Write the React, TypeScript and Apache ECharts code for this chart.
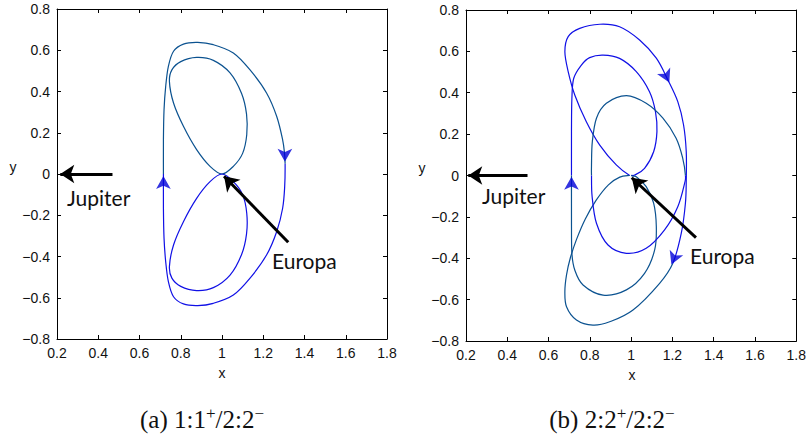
import React, { useEffect, useRef } from "react";
import * as echarts from "echarts";

// ---------- data (x, y in Europa-Jupiter rotating frame) ----------
// (a) 1:1+/2:2-
const A_OUTER_UPPER = [
  [0.716, 0.0], [0.716, 0.166], [0.719, 0.312], [0.727, 0.425], [0.740, 0.522],
  [0.765, 0.595], [0.813, 0.630], [0.882, 0.638], [0.958, 0.627], [1.055, 0.587],
  [1.135, 0.506], [1.216, 0.393], [1.265, 0.280], [1.294, 0.166], [1.303, 0.100],
  [1.306, 0.050],
];
const A_OUTER_LOWER = [
  [1.306, 0.050], [1.304, -0.060], [1.294, -0.166], [1.265, -0.280], [1.216, -0.393],
  [1.135, -0.506], [1.055, -0.587], [0.958, -0.627], [0.882, -0.638], [0.813, -0.630],
  [0.765, -0.595], [0.740, -0.522], [0.727, -0.425], [0.719, -0.312], [0.716, -0.166],
  [0.716, 0.0],
];
const A_INNER_UPPER = [
  [1.0, 0.0], [1.055, 0.037], [1.100, 0.100], [1.120, 0.190], [1.119, 0.290],
  [1.095, 0.390], [1.039, 0.490], [0.958, 0.551], [0.877, 0.565], [0.800, 0.545],
  [0.757, 0.505], [0.745, 0.449], [0.765, 0.344], [0.813, 0.231], [0.877, 0.118],
  [0.942, 0.037], [1.0, 0.0],
];
const A_INNER_LOWER = [
  [1.0, 0.0], [1.055, -0.037], [1.100, -0.100], [1.120, -0.190], [1.119, -0.290],
  [1.095, -0.390], [1.039, -0.490], [0.958, -0.551], [0.877, -0.565], [0.800, -0.545],
  [0.757, -0.505], [0.745, -0.449], [0.765, -0.344], [0.813, -0.231], [0.877, -0.118],
  [0.942, -0.037], [1.0, 0.0],
];
// arrowheads: [x, y, rotation]
const A_ARROWS = [
  [0.716, -0.01, 0],
  [1.305, 0.06, 180],
];

// (b) 2:2+/2:2-
const B_OUTER_UPPER = [
  [0.993, 0.0], [0.928, 0.051], [0.848, 0.147], [0.783, 0.260], [0.727, 0.389],
  [0.695, 0.502], [0.679, 0.598], [0.695, 0.671], [0.751, 0.711], [0.848, 0.731],
  [0.944, 0.719], [1.041, 0.655], [1.122, 0.567], [1.178, 0.462], [1.226, 0.357],
  [1.254, 0.244], [1.267, 0.115], [1.267, -0.022], [1.263, -0.134], [1.243, -0.279],
  [1.202, -0.424],
];
const B_OUTER_LOWER = [
  [1.202, -0.424], [1.138, -0.521], [1.009, -0.650], [0.896, -0.707], [0.815, -0.723],
  [0.735, -0.698], [0.687, -0.634], [0.679, -0.560], [0.687, -0.480], [0.705, -0.400],
  [0.735, -0.310], [0.778, -0.210], [0.830, -0.120], [0.890, -0.045], [0.945, -0.008],
  [0.993, 0.0],
];
const B_SECOND_UPPER = [
  [0.711, 0.0], [0.711, 0.212], [0.713, 0.373], [0.722, 0.470], [0.759, 0.534],
  [0.799, 0.570], [0.864, 0.582], [0.944, 0.566], [1.025, 0.502], [1.089, 0.405],
  [1.118, 0.308], [1.125, 0.212], [1.109, 0.115], [1.065, 0.035], [1.017, 0.002],
  [1.0, 0.0],
];
const B_SECOND_LOWER = [
  [0.711, 0.0], [0.711, -0.215], [0.713, -0.376], [0.727, -0.457], [0.767, -0.529],
  [0.864, -0.578], [0.977, -0.553], [1.065, -0.473], [1.114, -0.360], [1.122, -0.247],
  [1.109, -0.134], [1.073, -0.054], [1.025, -0.006], [1.0, 0.0],
];
const B_MIDDLE_UPPER = [
  [0.808, 0.0], [0.808, 0.051], [0.812, 0.164], [0.832, 0.277], [0.880, 0.349],
  [0.977, 0.386], [1.073, 0.349], [1.154, 0.277], [1.218, 0.180], [1.250, 0.083],
  [1.263, 0.0],
];
const B_MIDDLE_LOWER = [
  [1.263, 0.0], [1.259, -0.038], [1.226, -0.151], [1.162, -0.263], [1.073, -0.352],
  [0.977, -0.376], [0.888, -0.336], [0.832, -0.231], [0.811, -0.102], [0.808, 0.0],
];
const B_ARROWS = [
  [0.711, -0.006, 0],
  [1.185, 0.45, 206],
  [1.195, -0.43, 157],
];

// annotation arrows [from, to]
const A_JUPITER_ARROW = [[0.469, 0.0], [0.216, 0.0]];
const A_EUROPA_ARROW = [[1.321, -0.331], [1.010, -0.011]];
const B_JUPITER_ARROW = [[0.498, 0.0], [0.211, 0.0]];
const B_EUROPA_ARROW = [[1.314, -0.300], [1.003, -0.011]];

const X_MIN = 0.2, X_MAX = 1.8, Y_MIN = -0.8, Y_MAX = 0.8, STEP = 0.2;
const CAPTIONS = ["(a) 1:1{s|+}/2:2{s|\u2212}", "(b) 2:2{s|+}/2:2{s|\u2212}"];

const BLUE = "#1010e6";
const TEAL = "#0b5290";
const LABEL_FONT = "'Liberation Sans', Arial, Helvetica, sans-serif";
const ANNOT_FONT = "Lato, 'Open Sans', sans-serif";
const SERIF = "'Liberation Serif', 'DejaVu Serif', serif";

function fmt(v: number) {
  const r = Math.round(v * 10) / 10;
  if (r === 0) return "0";
  const s = Number.isInteger(r) ? String(Math.abs(r)) : Math.abs(r).toFixed(1);
  return (r < 0 ? "\u2212" : "") + s;
}

type Piece = { data: number[][]; color: string; grid: number; prev?: number[]; next?: number[] };

function catmullPath(pts: number[][], closed: boolean, prev?: number[], next?: number[]) {
  const n = pts.length;
  const m = n - 1;
  const get = (i: number) => {
    if (closed) return pts[((i % m) + m) % m];
    if (i < 0) return prev ?? pts[0];
    if (i >= n) return next ?? pts[n - 1];
    return pts[i];
  };
  let d = `M${pts[0][0]},${pts[0][1]}`;
  for (let i = 0; i < n - 1; i++) {
    const p0 = get(i - 1), p1 = get(i), p2 = get(i + 1), p3 = get(i + 2);
    const c1x = p1[0] + (p2[0] - p0[0]) / 6, c1y = p1[1] + (p2[1] - p0[1]) / 6;
    const c2x = p2[0] - (p3[0] - p1[0]) / 6, c2y = p2[1] - (p3[1] - p1[1]) / 6;
    d += ` C${c1x},${c1y} ${c2x},${c2y} ${p2[0]},${p2[1]}`;
  }
  return d;
}

export default function App() {
  const ref = useRef<HTMLDivElement>(null);
  useEffect(() => {
    if (!ref.current) return;
    const chart = echarts.init(ref.current, undefined, { renderer: "svg" });

    const grids = [
      { left: 57, top: 9, width: 330, height: 330 },
      { left: 466, top: 10, width: 331, height: 331 },
    ];

    const xAxes: any[] = [];
    const yAxes: any[] = [];
    grids.forEach((_, gi) => {
      const common = {
        gridIndex: gi,
        type: "value",
        splitLine: { show: false },
        axisLine: { show: true, onZero: false, lineStyle: { color: "#000", width: 1 } },
        axisTick: { show: true, inside: true, length: 4, lineStyle: { color: "#000" } },
      };
      xAxes.push({
        ...common, position: "bottom", min: X_MIN, max: X_MAX, interval: STEP,
        axisLabel: { show: true, margin: 7, color: "#111", fontSize: 14, fontFamily: LABEL_FONT, formatter: fmt },
      });
      xAxes.push({
        ...common, position: "top", min: X_MIN, max: X_MAX, interval: STEP,
        axisLabel: { show: false },
      });
      yAxes.push({
        ...common, position: "left", min: Y_MIN, max: Y_MAX, interval: STEP,
        axisLabel: { show: true, margin: 7, color: "#111", fontSize: 14, fontFamily: LABEL_FONT, formatter: fmt },
      });
      yAxes.push({
        ...common, position: "right", min: Y_MIN, max: Y_MAX, interval: STEP,
        axisLabel: { show: false },
      });
    });

    const last2 = (a: number[][]) => a[a.length - 2];
    const pieces: Piece[] = [
      { data: A_OUTER_UPPER, color: TEAL, grid: 0, prev: last2(A_OUTER_LOWER), next: A_OUTER_LOWER[1] },
      { data: A_OUTER_LOWER, color: BLUE, grid: 0, prev: last2(A_OUTER_UPPER), next: A_OUTER_UPPER[1] },
      { data: A_INNER_UPPER, color: TEAL, grid: 0 },
      { data: A_INNER_LOWER, color: BLUE, grid: 0 },
      { data: B_OUTER_UPPER, color: BLUE, grid: 1, prev: last2(B_SECOND_LOWER), next: B_OUTER_LOWER[1] },
      { data: B_OUTER_LOWER, color: TEAL, grid: 1, prev: last2(B_OUTER_UPPER), next: last2(B_SECOND_UPPER) },
      { data: B_SECOND_UPPER, color: BLUE, grid: 1, prev: B_SECOND_LOWER[1], next: last2(B_OUTER_LOWER) },
      { data: B_SECOND_LOWER, color: TEAL, grid: 1, prev: B_SECOND_UPPER[1], next: B_OUTER_UPPER[1] },
      { data: B_MIDDLE_UPPER, color: TEAL, grid: 1, prev: last2(B_MIDDLE_LOWER), next: B_MIDDLE_LOWER[1] },
      { data: B_MIDDLE_LOWER, color: BLUE, grid: 1, prev: last2(B_MIDDLE_UPPER), next: B_MIDDLE_UPPER[1] },
    ];

    const traj = (p: Piece) => {
      const first = p.data[0], lastP = p.data[p.data.length - 1];
      const closed = !p.prev && !p.next && first[0] === lastP[0] && first[1] === lastP[1];
      return {
        type: "custom",
        xAxisIndex: p.grid * 2,
        yAxisIndex: p.grid * 2,
        data: p.data,
        silent: true,
        clip: false,
        renderItem: (params: any, api: any) => {
          if (params.dataIndex !== 0) return null;
          const px = p.data.map((d) => api.coord(d));
          const pv = p.prev ? api.coord(p.prev) : undefined;
          const nx = p.next ? api.coord(p.next) : undefined;
          return {
            type: "path",
            shape: { pathData: catmullPath(px, closed, pv, nx) },
            style: { stroke: p.color, fill: "none", lineWidth: 1.2 },
          };
        },
      };
    };
    const arrows = (data: number[][], gi: number) => ({
      type: "scatter",
      xAxisIndex: gi * 2,
      yAxisIndex: gi * 2,
      data: data.map((d) => ({ value: [d[0], d[1]], symbolRotate: d[2] })),
      symbol: "arrow",
      symbolSize: [11, 13],
      itemStyle: { color: "#0000d8" },
      silent: true,
      z: 5,
    });
    const pointer = (a: number[][][], gi: number) => ({
      type: "lines",
      coordinateSystem: "cartesian2d",
      xAxisIndex: gi * 2,
      yAxisIndex: gi * 2,
      symbol: ["none", "arrow"],
      symbolSize: [0, 14],
      lineStyle: { color: "#000", width: 3, opacity: 1 },
      data: a.map((c) => ({ coords: c })),
      silent: true,
      z: 6,
    });

    const series: any[] = [
      ...pieces.map(traj),
      arrows(A_ARROWS, 0),
      pointer([A_JUPITER_ARROW, A_EUROPA_ARROW], 0),
      arrows(B_ARROWS, 1),
      pointer([B_JUPITER_ARROW, B_EUROPA_ARROW], 1),
    ];

    const annot = (text: string, x: number, y: number) => ({
      type: "text",
      x,
      y,
      style: { text, fontSize: 21, fontFamily: ANNOT_FONT, fill: "#111", verticalAlign: "middle", align: "left" },
      z: 10,
    });
    const axisName = (text: string, x: number, y: number) => ({
      type: "text",
      x,
      y,
      style: { text, fontSize: 14, fontFamily: LABEL_FONT, fill: "#111", verticalAlign: "middle", align: "center" },
      z: 10,
    });
    const caption = (text: string, x: number, y: number) => ({
      type: "text",
      x,
      y,
      style: {
        text,
        fontSize: 25,
        fontFamily: SERIF,
        fill: "#111",
        align: "center",
        verticalAlign: "middle",
        rich: {
          s: { fontSize: 17, fontFamily: SERIF, fill: "#111", verticalAlign: "top", padding: [0, 0, 12, 0] },
        },
      },
      z: 10,
    });

    chart.setOption({
      animation: false,
      backgroundColor: "#fff",
      grid: grids.map((g) => ({ ...g, containLabel: false })),
      xAxis: xAxes,
      yAxis: yAxes,
      series,
      graphic: [
        annot("Jupiter", 67, 197),
        annot("Europa", 272, 260),
        annot("Jupiter", 482, 195),
        annot("Europa", 690, 255),
        axisName("x", 222, 373),
        axisName("y", 13, 167),
        axisName("x", 632, 375),
        axisName("y", 422, 168),
        caption(CAPTIONS[0], 202, 419),
        caption(CAPTIONS[1], 612, 419),
      ],
    });
    return () => chart.dispose();
  }, []);
  return (
    <div
      ref={ref}
      style={{ position: "absolute", left: 0, top: 0, width: 809, height: 440, background: "#fff" }}
    />
  );
}
